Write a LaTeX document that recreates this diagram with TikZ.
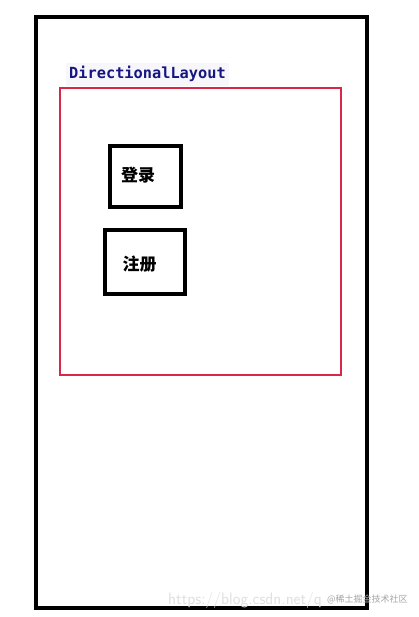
\documentclass[tikz,border=0pt]{standalone}
\usepackage{fontspec}
\newfontfamily\cjk{Noto Sans CJK SC}
\newfontfamily\codefont{DejaVu Sans Mono}
\usepackage{tikz}
\usetikzlibrary{calc,positioning}
\definecolor{layoutred}{RGB}{214,40,72}
\definecolor{codeblue}{RGB}{22,22,128}
\definecolor{codebg}{RGB}{246,246,251}
\tikzset{
	phone/.style={draw=black,line width=4pt,minimum width=331pt,minimum height=591pt,inner sep=0},
	layoutbox/.style={draw=layoutred,line width=2pt,minimum width=280.5pt,minimum height=286.5pt,inner sep=0},
	btn/.style={draw=black,line width=4.5pt,inner sep=0},
	btntext/.style={font=\cjk\bfseries\fontsize{17}{17}\selectfont},
	watermark/.style={text=black!12,inner sep=0}
}

\begin{document}
\begin{tikzpicture}[x=1pt,y=-1pt]
	\useasboundingbox (0,0) rectangle (419,617);
	\fill[white] (0,0) rectangle (419,617);

	\node[phone] (screen) at (201.5,312.5) {};
	\node[layoutbox] (layout) at (200.25,231.75) {};
	\node[anchor=base west,fill=codebg,inner xsep=3pt,inner ysep=4pt,text=codeblue,font=\codefont\bfseries\fontsize{15.3}{15.3}\selectfont] (label) at (66,79) {DirectionalLayout};

	\node[btn,minimum width=71pt,minimum height=61pt] (login) at (145.5,176.5) {};
	\node[btntext] (logintext) at (138,175.5) {登录};
	\node[btn,minimum width=80pt,minimum height=64pt] (register) at (145,262) {};
	\node[btntext] (registertext) at (139.5,264) {注册};

	\node[watermark,anchor=base west,font=\sffamily\fontsize{16.5}{16.5}\selectfont] (url) at (168,604) {https://blog.csdn.net/q};
	\node[watermark,anchor=base west,text=black!35,font=\cjk\fontsize{9}{9}\selectfont] (credit) at (327,602) {@稀土掘金技术社区};
\end{tikzpicture}
\end{document}
